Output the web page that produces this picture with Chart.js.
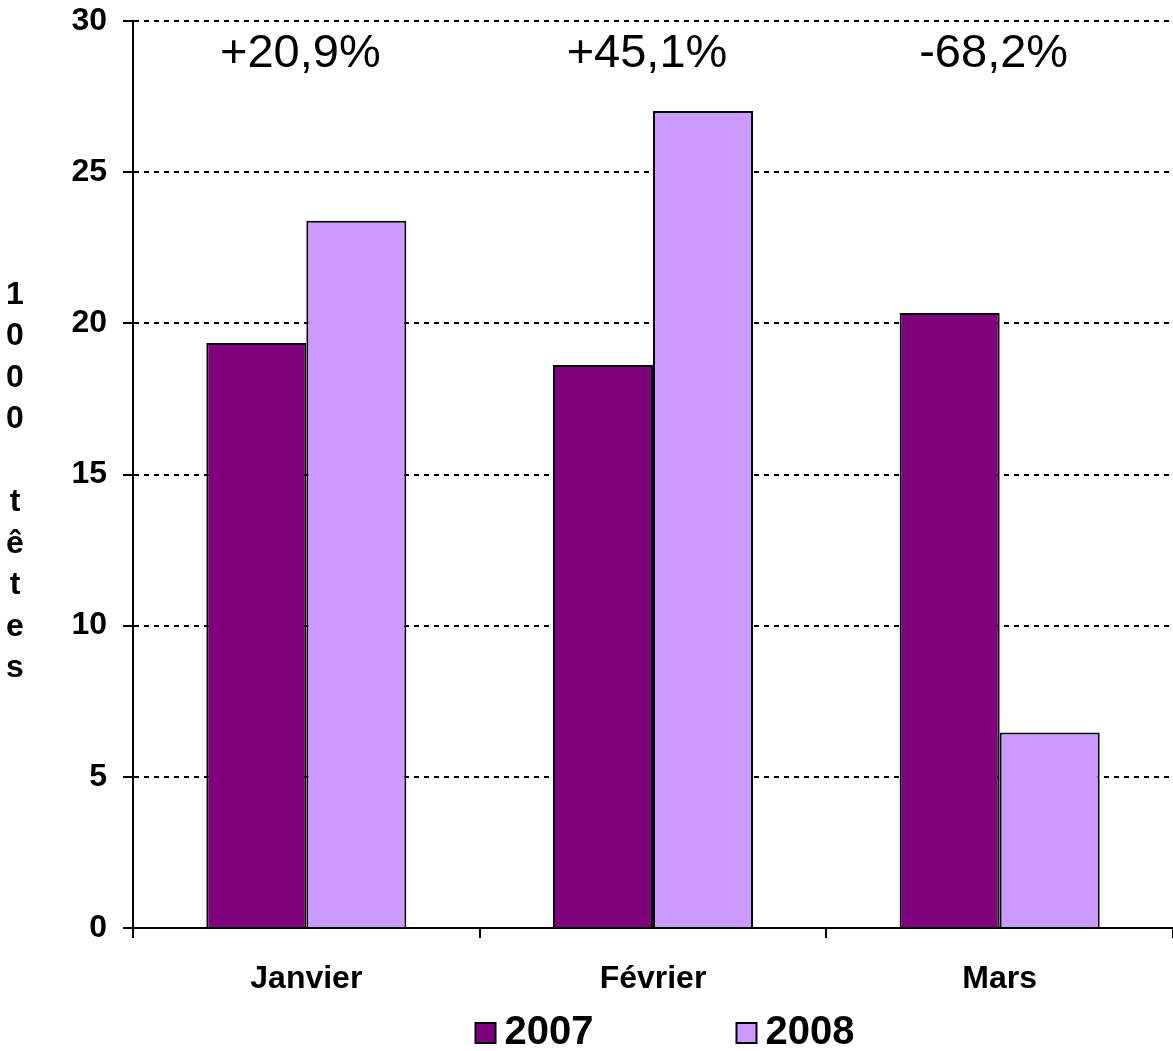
<!DOCTYPE html>
<html>
<head>
<meta charset="utf-8">
<script src="https://cdn.jsdelivr.net/npm/chart.js@4.4.1/dist/chart.umd.min.js"></script>
<style>
  body { margin: 0; background: #fff; }
</style>
</head>
<body>
<canvas id="graphique" width="1173" height="1051"></canvas>
<script>
const mois = ["Janvier", "Février", "Mars"];
const serie2007 = [19.35, 18.62, 20.34];
const serie2008 = [23.39, 27.02, 6.47];
const variations = ["+20,9%", "+45,1%", "-68,2%"];
const annees = ["2007", "2008"];
const couleurs = ["#800080", "#CC99FF"];
const titreY = "1000 têtes";

const police = "'Liberation Sans', Arial, sans-serif";

// titre vertical de l'axe Y, une lettre par ligne
const pluginTitreY = {
  id: "titreY",
  afterDraw(chart) {
    const ctx = chart.ctx;
    ctx.save();
    ctx.font = "bold 32px " + police;
    ctx.fillStyle = "#000";
    ctx.textAlign = "center";
    ctx.textBaseline = "middle";
    const lettres = titreY.split("");
    const pas = 41.5;
    const y0 = 295;
    lettres.forEach((l, i) => {
      ctx.fillText(l, 15, y0 + i * pas);
    });
    ctx.restore();
  }
};

// variations en haut de chaque mois
const pluginVariations = {
  id: "variations",
  afterDatasetsDraw(chart) {
    const ctx = chart.ctx;
    const x = chart.scales.x;
    ctx.save();
    ctx.font = "47px " + police;
    ctx.fillStyle = "#000";
    ctx.textAlign = "center";
    ctx.textBaseline = "middle";
    variations.forEach((v, i) => {
      ctx.fillText(v, x.getPixelForValue(i) - 6, chart.chartArea.top + 33);
    });
    ctx.restore();
  }
};

// légende dessinée à la main (écart large entre les deux entrées)
const pluginLegende = {
  id: "legende",
  afterDraw(chart) {
    const ctx = chart.ctx;
    ctx.save();
    ctx.font = "bold 40px " + police;
    ctx.textBaseline = "middle";
    const boite = 20, espace = 9, ecart = 143;
    const largeurs = chart.data.datasets.map(d => boite + espace + ctx.measureText(d.label).width);
    const total = largeurs.reduce((a, b) => a + b, 0) + ecart;
    const centre = (chart.chartArea.left + chart.chartArea.right) / 2 + 12;
    let x = centre - total / 2;
    const y = 1033;
    chart.data.datasets.forEach((d, i) => {
      ctx.fillStyle = d.backgroundColor;
      ctx.fillRect(x, y - boite / 2, boite, boite);
      ctx.lineWidth = 2;
      ctx.strokeStyle = "#000";
      ctx.strokeRect(x, y - boite / 2, boite, boite);
      ctx.fillStyle = "#000";
      ctx.fillText(d.label, x + boite + espace, y);
      x += largeurs[i] + ecart;
    });
    ctx.restore();
  }
};

new Chart(document.getElementById("graphique"), {
  type: "bar",
  data: {
    labels: mois,
    datasets: [
      {
        label: annees[0],
        data: serie2007,
        backgroundColor: couleurs[0],
        borderColor: "#000",
        borderWidth: 2,
      },
      {
        label: annees[1],
        data: serie2008,
        backgroundColor: couleurs[1],
        borderColor: "#000",
        borderWidth: 2,
      },
    ],
  },
  options: {
    responsive: false,
    animation: false,
    devicePixelRatio: 1,
    layout: { padding: { top: 21, right: 0, bottom: 0, left: 0 } },
    datasets: {
      bar: { categoryPercentage: 0.577, barPercentage: 1 },
    },
    scales: {
      x: {
        afterFit: (s) => { s.height = 123; s.paddingLeft = 0; s.paddingRight = 0; },
        grid: {
          offset: true,
          drawOnChartArea: false,
          color: "#000",
          lineWidth: 2,
          tickLength: 10,
        },
        border: { color: "#000", width: 2 },
        ticks: {
          color: "#000",
          padding: 22,
          font: { family: police, size: 32, weight: "bold" },
        },
      },
      y: {
        min: 0,
        max: 30,
        afterFit: (s) => { s.width = 133; s.paddingTop = 0; s.paddingBottom = 0; },
        grid: {
          color: "#000",
          lineWidth: 2,
          tickLength: 10,
          tickColor: "#000",
          tickWidth: 2,
        },
        border: { color: "#000", width: 2, dash: [5, 5] },
        ticks: {
          stepSize: 5,
          color: "#000",
          padding: 16,
          font: { family: police, size: 32, weight: "bold" },
        },
      },
    },
    plugins: {
      legend: { display: false },
      tooltip: { enabled: false },
    },
  },
  plugins: [pluginTitreY, pluginVariations, pluginLegende],
});
</script>
</body>
</html>
